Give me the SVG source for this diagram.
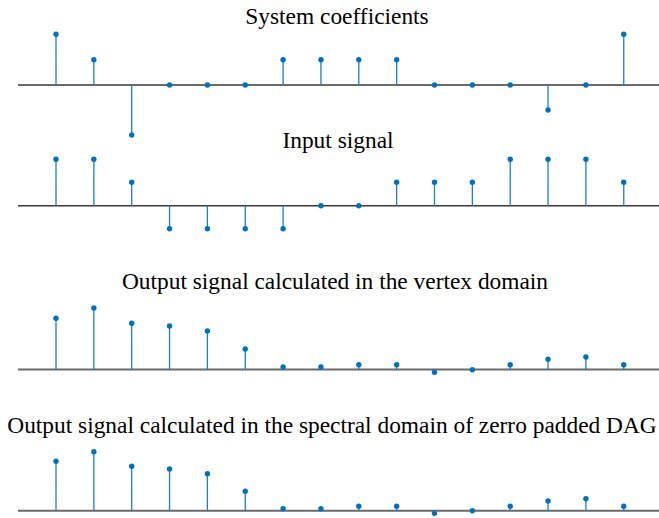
<svg xmlns="http://www.w3.org/2000/svg" width="659" height="518" viewBox="0 0 659 518">
<style>
.title{font-family:"Liberation Serif","Times New Roman",serif;font-size:23.4px;fill:#000;text-anchor:middle}
.axis{stroke:#6a6a6a;stroke-width:2;fill:none}
.axis2{stroke:#3a3a3a;stroke-width:1.6;fill:none}
.stem{stroke:#1a80cc;stroke-width:1.3;fill:none}
.mk{fill:#0072BD}
</style>
<rect width="659" height="518" fill="#fff"/>
<g id="system-coefficients">
<text class="title" x="337" y="24">System coefficients</text>
<line class="axis" x1="18" y1="85" x2="659" y2="85"/>
<path class="stem" d="M56 85V34.3M93.85 85V59.7M131.7 85V135M283.1 85V59.7M320.95 85V59.7M358.8 85V59.7M396.65 85V59.7M548.05 85V110M623.75 85V34.3"/>
<g class="mk">
<circle cx="56" cy="34.3" r="2.7"/><circle cx="93.85" cy="59.7" r="2.7"/><circle cx="131.7" cy="135" r="2.7"/><circle cx="169.55" cy="85" r="2.7"/><circle cx="207.4" cy="85" r="2.7"/><circle cx="245.25" cy="85" r="2.7"/><circle cx="283.1" cy="59.7" r="2.7"/><circle cx="320.95" cy="59.7" r="2.7"/><circle cx="358.8" cy="59.7" r="2.7"/><circle cx="396.65" cy="59.7" r="2.7"/><circle cx="434.5" cy="85" r="2.7"/><circle cx="472.35" cy="85" r="2.7"/><circle cx="510.2" cy="85" r="2.7"/><circle cx="548.05" cy="110" r="2.7"/><circle cx="585.9" cy="85" r="2.7"/><circle cx="623.75" cy="34.3" r="2.7"/>
</g>
</g>
<g id="input-signal">
<text class="title" x="338" y="148">Input signal</text>
<line class="axis2" x1="18" y1="205.7" x2="659" y2="205.7"/>
<path class="stem" d="M56 205.7V159.3M93.85 205.7V159.3M131.7 205.7V182.3M169.55 205.7V228.7M207.4 205.7V228.7M245.25 205.7V228.7M283.1 205.7V228.7M396.65 205.7V182.3M434.5 205.7V182.3M472.35 205.7V182.3M510.2 205.7V159.3M548.05 205.7V159.3M585.9 205.7V159.3M623.75 205.7V182.3"/>
<g class="mk">
<circle cx="56" cy="159.3" r="2.7"/><circle cx="93.85" cy="159.3" r="2.7"/><circle cx="131.7" cy="182.3" r="2.7"/><circle cx="169.55" cy="228.7" r="2.7"/><circle cx="207.4" cy="228.7" r="2.7"/><circle cx="245.25" cy="228.7" r="2.7"/><circle cx="283.1" cy="228.7" r="2.7"/><circle cx="320.95" cy="205.7" r="2.7"/><circle cx="358.8" cy="205.7" r="2.7"/><circle cx="396.65" cy="182.3" r="2.7"/><circle cx="434.5" cy="182.3" r="2.7"/><circle cx="472.35" cy="182.3" r="2.7"/><circle cx="510.2" cy="159.3" r="2.7"/><circle cx="548.05" cy="159.3" r="2.7"/><circle cx="585.9" cy="159.3" r="2.7"/><circle cx="623.75" cy="182.3" r="2.7"/>
</g>
</g>
<g id="output-vertex">
<text class="title" x="335" y="289">Output signal calculated in the vertex domain</text>
<line class="axis" x1="18" y1="369.5" x2="659" y2="369.5"/>
<path class="stem" d="M56 369.5V318.3M93.85 369.5V308M131.7 369.5V323.3M169.55 369.5V326M207.4 369.5V331M245.25 369.5V349M283.1 369.5V367M320.95 369.5V367M358.8 369.5V364.7M396.65 369.5V364.7M434.5 369.5V372.3M510.2 369.5V364.7M548.05 369.5V359.3M585.9 369.5V357M623.75 369.5V364.7"/>
<g class="mk">
<circle cx="56" cy="318.3" r="2.7"/><circle cx="93.85" cy="308" r="2.7"/><circle cx="131.7" cy="323.3" r="2.7"/><circle cx="169.55" cy="326" r="2.7"/><circle cx="207.4" cy="331" r="2.7"/><circle cx="245.25" cy="349" r="2.7"/><circle cx="283.1" cy="367" r="2.7"/><circle cx="320.95" cy="367" r="2.7"/><circle cx="358.8" cy="364.7" r="2.7"/><circle cx="396.65" cy="364.7" r="2.7"/><circle cx="434.5" cy="372.3" r="2.7"/><circle cx="472.35" cy="369.8" r="2.7"/><circle cx="510.2" cy="364.7" r="2.7"/><circle cx="548.05" cy="359.3" r="2.7"/><circle cx="585.9" cy="357" r="2.7"/><circle cx="623.75" cy="364.7" r="2.7"/>
</g>
</g>
<g id="output-spectral">
<text class="title" x="332" y="432.5">Output signal calculated in the spectral domain of zerro padded DAG</text>
<line class="axis" x1="18" y1="510.7" x2="659" y2="510.7"/>
<path class="stem" d="M56 510.7V461.3M93.85 510.7V451.7M131.7 510.7V466.3M169.55 510.7V469M207.4 510.7V473.7M245.25 510.7V491.3M283.1 510.7V508.7M320.95 510.7V508.7M358.8 510.7V506.3M396.65 510.7V506.3M434.5 510.7V513.3M510.2 510.7V506.3M548.05 510.7V501M585.9 510.7V498.7M623.75 510.7V506.3"/>
<g class="mk">
<circle cx="56" cy="461.3" r="2.7"/><circle cx="93.85" cy="451.7" r="2.7"/><circle cx="131.7" cy="466.3" r="2.7"/><circle cx="169.55" cy="469" r="2.7"/><circle cx="207.4" cy="473.7" r="2.7"/><circle cx="245.25" cy="491.3" r="2.7"/><circle cx="283.1" cy="508.7" r="2.7"/><circle cx="320.95" cy="508.7" r="2.7"/><circle cx="358.8" cy="506.3" r="2.7"/><circle cx="396.65" cy="506.3" r="2.7"/><circle cx="434.5" cy="513.3" r="2.7"/><circle cx="472.35" cy="510.8" r="2.7"/><circle cx="510.2" cy="506.3" r="2.7"/><circle cx="548.05" cy="501" r="2.7"/><circle cx="585.9" cy="498.7" r="2.7"/><circle cx="623.75" cy="506.3" r="2.7"/>
</g>
</g>
</svg>
